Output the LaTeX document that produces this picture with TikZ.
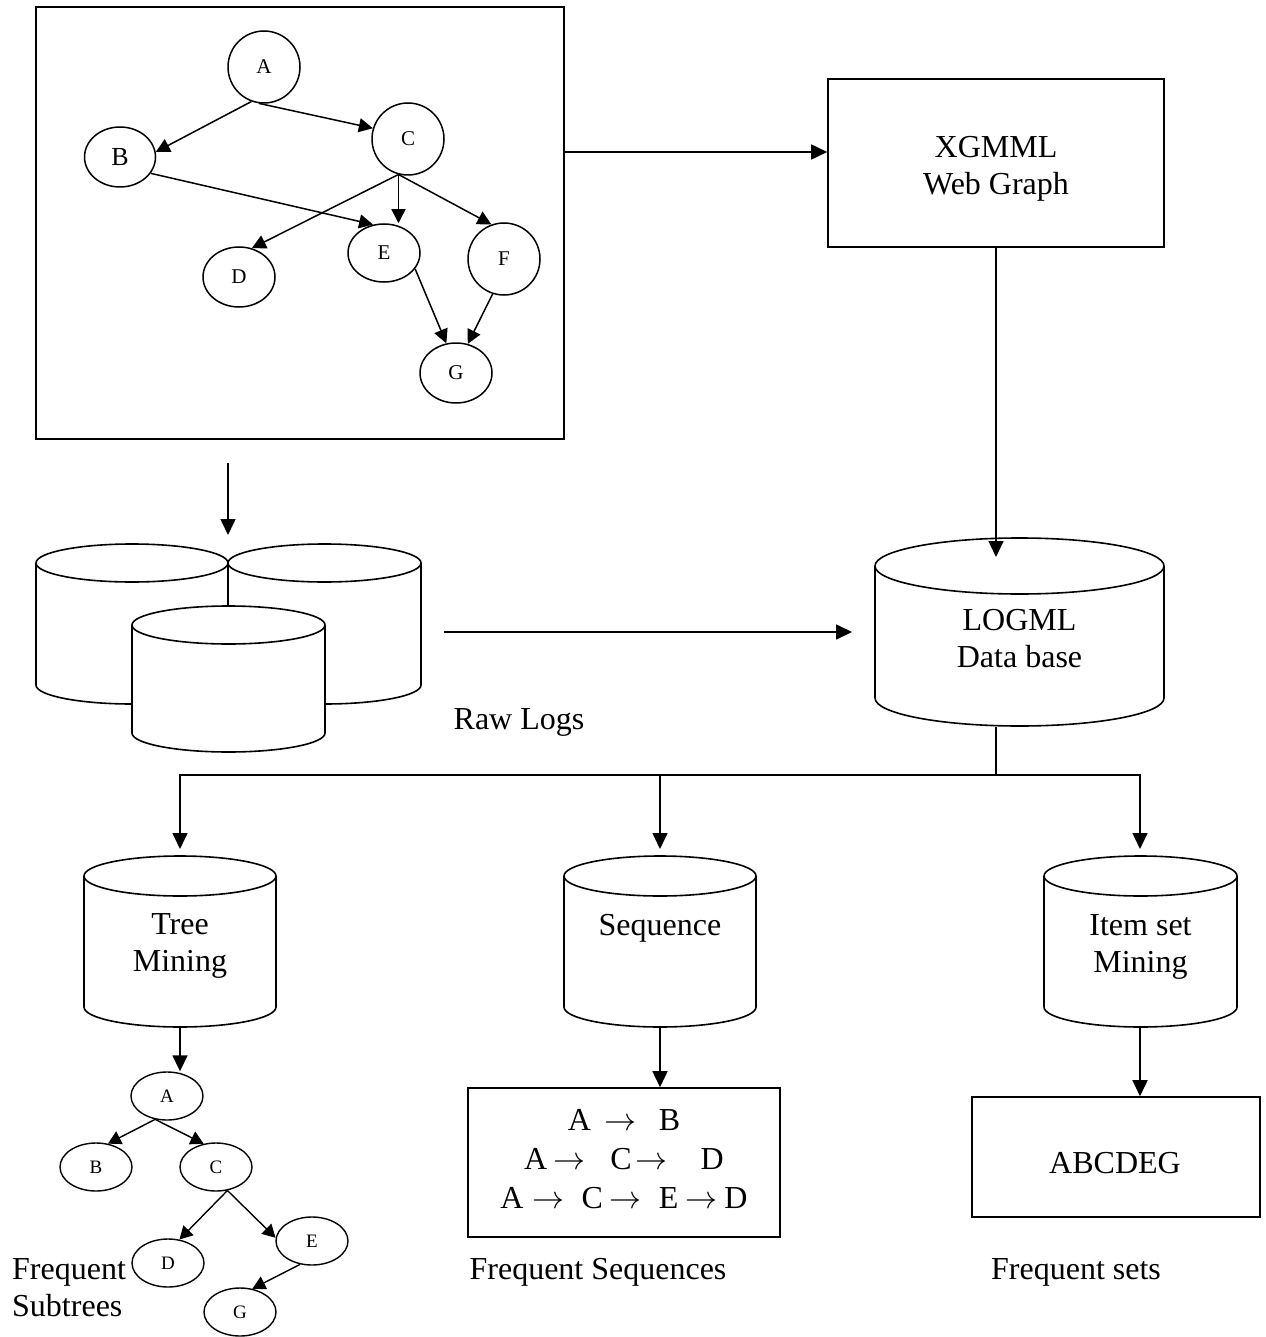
\documentclass[tikz,border=0pt]{standalone}
\usepackage{fix-cm}
\usepackage{fontspec}
\setmainfont{Liberation Serif}
\usetikzlibrary{arrows.meta,shapes.geometric}

\tikzset{
  ink/.style={line width=1.6pt},
  panel/.style={draw, ink, rectangle, inner sep=0pt},
  drum/.style={ink, fill=white},
  flow/.style={ink, -{Triangle[length=16pt,width=15pt]}},
  gnode/.style={draw, ellipse, line width=1.5pt, inner sep=0pt, minimum width=72pt, font=\fontsize{21}{21}\selectfont},
  gedge/.style={line width=1.5pt, -{Triangle[length=14pt,width=14pt]}},
  tnode/.style={draw, ellipse, line width=1.4pt, inner sep=0pt, minimum width=72pt, minimum height=48pt, font=\fontsize{19}{19}\selectfont},
  tedge/.style={line width=1.4pt, -{Triangle[length=13pt,width=14pt]}},
  wording/.style={font=\fontsize{32}{37}\selectfont, align=center, inner sep=0pt},
}

% database drum: left x, right x, top-rim centre y, bottom-rim centre y, rim radius
\newcommand\dbdrum[5]{%
  \pgfmathsetmacro\drumrx{(#2-#1)/2}%
  \filldraw[drum] (#1,#3) -- (#1,#4)
     arc[start angle=180,end angle=360,x radius=\drumrx pt,y radius=#5pt]
     -- (#2,#3)
     arc[start angle=0,end angle=180,x radius=\drumrx pt,y radius=#5pt] -- cycle;
  \draw[ink] (#1,#3) arc[start angle=180,end angle=360,x radius=\drumrx pt,y radius=#5pt];
}

\begin{document}
\begin{tikzpicture}[x=1pt,y=-1pt]
\useasboundingbox (0,0) rectangle (1265,1337);

% ---- web graph panel ----
\node[panel, minimum width=528pt, minimum height=432pt] (webgraph) at (300,223) {};
\node[gnode, minimum height=72pt] (A) at (264,67) {A};
\node[gnode, minimum height=60pt, minimum width=71pt, font=\fontsize{26}{26}\selectfont] (B) at (120,157) {B};
\node[gnode, minimum height=72pt] (C) at (408,139) {C};
\node[gnode, minimum height=60pt] (D) at (239,277) {D};
\node[gnode, minimum height=58pt] (E) at (384,253) {E};
\node[gnode, minimum height=72pt] (F) at (504,259) {F};
\node[gnode, minimum height=60pt] (G) at (456,373) {G};
\draw[gedge] (A.250) -- (B.8);
\draw[gedge] (A.262) -- (C.163);
\draw[gedge] (B.332) -- (E.111);
\draw[gedge] (C.255) -- (D.66);
\draw[gedge] (C.255) -- (C.255 |- E.north);
\draw[gedge] (C.255) -- (F.110);
\draw[gedge] (E.333) -- (G.108);
\draw[gedge] (F.252) -- (G.68);

% ---- XGMML web graph ----
\node[panel, minimum width=336pt, minimum height=168pt] (xgmml) at (996,163) {};
\node[wording] (xgmmlText) at (996,169) {XGMML\\Web Graph};
\coordinate (graphOut) at (564,152);
\draw[flow] (graphOut) -- (graphOut -| xgmml.west);

% ---- raw logs ----
\dbdrum{36}{228}{563}{685}{19}
\dbdrum{228}{421}{563}{685}{19}
\dbdrum{132}{325}{625}{733}{19}
\coordinate (rawIn) at (228,463);
\coordinate (rawTop) at (228,535);
\draw[flow] (rawIn) -- (rawTop);
\node[wording] (rawText) at (519,722) {Raw Logs};

% ---- LOGML data base ----
\dbdrum{875}{1164}{566}{698}{28}
\node[wording] (logText) at (1019.5,638.5) {LOGML\\Data base};
\coordinate (logTop) at (996,557);
\draw[flow] (xgmml.south) -- (logTop);
\coordinate (rawOut) at (444,632);
\coordinate (logSide) at (852,632);
\draw[flow] (rawOut) -- (logSide);

% ---- branching to the three miners ----
\coordinate (logOut) at (996,727);
\coordinate (split) at (996,775);
\coordinate (seqFork) at (660,775);
\coordinate (treeTip) at (180,849);
\coordinate (seqTip) at (660,849);
\coordinate (itemTip) at (1140,849);
\draw[flow] (logOut) -- (split) -| (treeTip);
\draw[flow] (split) -| (itemTip);
\draw[flow] (seqFork) -- (seqTip);

\dbdrum{84}{276}{876}{1007}{20}
\dbdrum{564}{756}{876}{1007}{20}
\dbdrum{1044}{1237}{876}{1007}{20}
\node[wording] (treeText) at (180,946) {Tree\\Mining};
\node[wording] (seqName) at (660,928) {Sequence};
\node[wording] (itemText) at (1140.5,947) {Item set\\Mining};

% ---- frequent subtrees ----
\coordinate (treeOut) at (180,1027);
\node[tnode] (tA) at (167,1096) {A};
\node[tnode] (tB) at (96,1167) {B};
\node[tnode] (tC) at (216,1167) {C};
\node[tnode] (tD) at (168,1263) {D};
\node[tnode] (tE) at (312,1241) {E};
\node[tnode] (tG) at (240,1312) {G};
\draw[flow] (treeOut) -- (treeOut |- tA.north);
\draw[tedge] (tA.243) -- (tB.63);
\draw[tedge] (tA.243) -- (tC.118);
\draw[tedge] (tC.296) -- (tD.64);
\draw[tedge] (tC.296) -- (tE.175);
\draw[tedge] (tE.243) -- (tG.62);
\node[wording, align=left, anchor=west] (subtreesText) at (12,1288) {Frequent\\Subtrees};

% ---- frequent sequences ----
\node[panel, minimum width=312pt, minimum height=149pt] (seqbox) at (624,1162.5) {};
\node[wording, font=\fontsize{32}{39}\selectfont] (seqText) at (624,1159)
  {A\hspace{14pt}$\rightarrow$\hspace{22pt}B\\
   A\hspace{6pt}$\rightarrow$\hspace{25pt}C\hspace{4pt}$\rightarrow$\hspace{33pt}D\\
   A\hspace{9pt}$\rightarrow$\hspace{17pt}C\hspace{7pt}$\rightarrow$\hspace{17pt}E\hspace{7pt}$\rightarrow$\hspace{7pt}D};
\coordinate (seqOut) at (660,1027);
\draw[flow] (seqOut) -- (seqOut |- seqbox.north);
\node[wording] (seqCaption) at (598,1272) {Frequent Sequences};

% ---- frequent sets ----
\node[panel, minimum width=288pt, minimum height=120pt] (sets) at (1116,1157) {};
\node[wording] (setsText) at (1115,1163) {ABCDEG};
\coordinate (itemOut) at (1140,1027);
\draw[flow] (itemOut) -- (itemOut |- sets.north);
\node[wording] (setsCaption) at (1076,1272) {Frequent sets};
\end{tikzpicture}
\end{document}
